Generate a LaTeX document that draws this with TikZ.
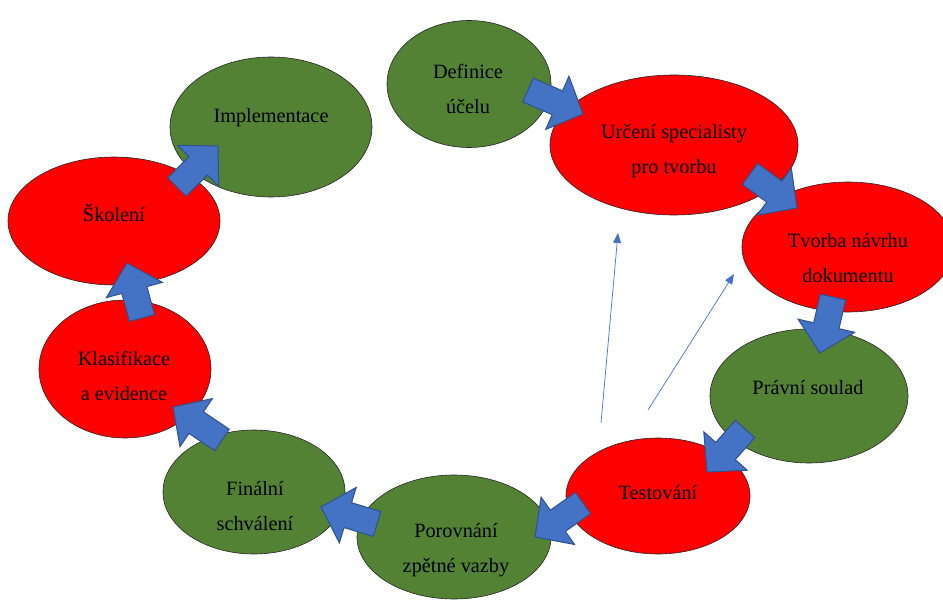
\documentclass[tikz,border=0pt]{standalone}
\usepackage{fontspec}
\setmainfont{Liberation Serif}
\usetikzlibrary{shapes.geometric,calc,arrows.meta}

\definecolor{leaf}{HTML}{548235}
\definecolor{alarm}{HTML}{FF0000}
\definecolor{flow}{HTML}{4472C4}
\definecolor{flowedge}{HTML}{2F528F}

\tikzset{
  stage/.style={ellipse, draw=black!85, line width=0.6pt, inner sep=0pt},
  greenstage/.style={stage, fill=leaf},
  redstage/.style={stage, fill=alarm},
  caption/.style={font=\fontsize{20.3}{35.5}\selectfont, align=center, inner sep=0pt},
  barrow/.style={fill=flow, draw=flowedge, line width=1pt, line join=miter},
  hint/.style={draw=flow, line width=0.7pt, -{Triangle[length=10pt,width=8pt]}},
}

% block arrow: name, tail coordinate, tip coordinate
\newcommand\blockarrow[3]{%
  \coordinate (#1h) at ($(#3)!28pt!(#2)$);
  \draw[barrow] ($(#2)!13pt!90:(#3)$) -- ($(#1h)!13pt!90:(#3)$)
    -- ($(#1h)!29pt!90:(#3)$) -- (#3) -- ($(#1h)!29pt!-90:(#3)$)
    -- ($(#1h)!13pt!-90:(#3)$) -- ($(#2)!13pt!-90:(#3)$) -- cycle;}

\begin{document}
\begin{tikzpicture}[x=1pt,y=-1pt]
  \clip (0,0) rectangle (943,602);
  \fill[white] (0,0) rectangle (943,602);

  % process stages
  \node[greenstage, minimum width=164pt, minimum height=127pt] (def) at (469,84) {};
  \node[redstage,   minimum width=248pt, minimum height=140pt] (urc) at (674,145) {};
  \node[redstage,   minimum width=212pt, minimum height=130pt] (tvo) at (848,247) {};
  \node[greenstage, minimum width=198pt, minimum height=134pt] (pra) at (809,396) {};
  \node[redstage,   minimum width=184pt, minimum height=116pt] (tes) at (658,496) {};
  \node[greenstage, minimum width=194pt, minimum height=124pt] (por) at (454,537) {};
  \node[greenstage, minimum width=182pt, minimum height=124pt] (fin) at (254,492) {};
  \node[redstage,   minimum width=172pt, minimum height=138pt] (kla) at (125,369) {};
  \node[redstage,   minimum width=212pt, minimum height=128pt] (sko) at (114,221) {};
  \node[greenstage, minimum width=202pt, minimum height=140pt] (imp) at (271,127) {};

  % stage captions
  \node[caption] (defT) at (468,89)  {Definice\\účelu};
  \node[caption] (urcT) at (674,151) {Určení specialisty\\pro tvorbu};
  \node[caption] (tvoT) at (848,258) {Tvorba návrhu\\dokumentu};
  \node[caption] (praT) at (808,388) {Právní soulad};
  \node[caption] (tesT) at (658,493) {Testování};
  \node[caption] (porT) at (456,550) {Porovnání\\zpětné vazby};
  \node[caption] (finT) at (255,506) {Finální\\schválení};
  \node[caption] (klaT) at (124,376) {Klasifikace\\a evidence};
  \node[caption] (skoT) at (114,213) {Školení};
  \node[caption] (impT) at (271,118) {Implementace};

  % block arrows between stages
  \coordinate (a1s) at (528,90);  \coordinate (a1e) at (583,114);
  \coordinate (a2s) at (750,174); \coordinate (a2e) at (797,208);
  \coordinate (a3s) at (833,297); \coordinate (a3e) at (820,353);
  \coordinate (a4s) at (745,429); \coordinate (a4e) at (707,472);
  \coordinate (a5s) at (583,503); \coordinate (a5e) at (535,537);
  \coordinate (a6s) at (377,524); \coordinate (a6e) at (321,507);
  \coordinate (a7s) at (222,440); \coordinate (a7e) at (173,407);
  \coordinate (a8s) at (142,318); \coordinate (a8e) at (127,263);
  \coordinate (a9s) at (177,187); \coordinate (a9e) at (218,146);
  \blockarrow{a1}{a1s}{a1e}
  \blockarrow{a2}{a2s}{a2e}
  \blockarrow{a3}{a3s}{a3e}
  \blockarrow{a4}{a4s}{a4e}
  \blockarrow{a5}{a5s}{a5e}
  \blockarrow{a6}{a6s}{a6e}
  \blockarrow{a7}{a7s}{a7e}
  \blockarrow{a8}{a8s}{a8e}
  \blockarrow{a9}{a9s}{a9e}

  % thin return arrows
  \coordinate (r1s) at (601,423); \coordinate (r1e) at (618,233);
  \coordinate (r2s) at (648,410); \coordinate (r2e) at (734,274);
  \draw[hint] (r1s) -- (r1e);
  \draw[hint] (r2s) -- (r2e);
\end{tikzpicture}
\end{document}
